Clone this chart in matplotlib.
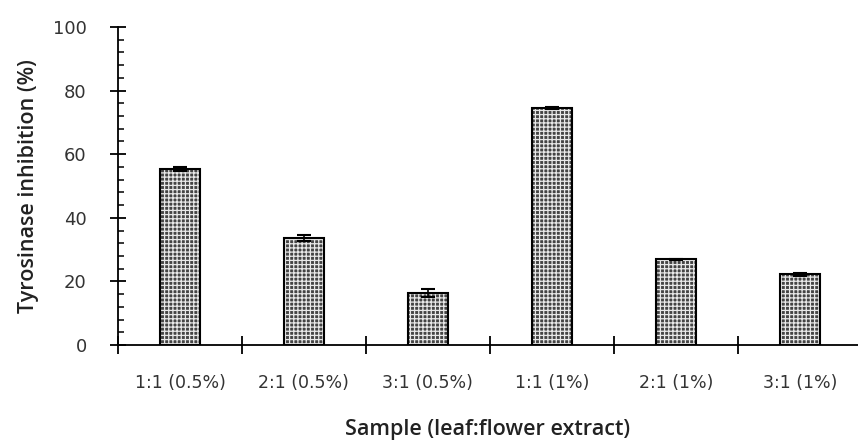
import numpy as np
import matplotlib.pyplot as plt
from matplotlib.ticker import MultipleLocator, FixedLocator

# data
samples = ['1:1 (0.5%)', '2:1 (0.5%)', '3:1 (0.5%)', '1:1 (1%)', '2:1 (1%)', '3:1 (1%)']
inhibition = [55.3, 33.6, 16.3, 74.5, 27.0, 22.2]
errors = [0.7, 1.0, 1.3, 0.3, 0.2, 0.4]


def plot_chart():
    plt.switch_backend('Agg')
    plt.rcParams['font.family'] = ['DejaVu Sans']
    plt.rcParams['hatch.linewidth'] = 0.9

    fig = plt.figure(figsize=(8.58, 4.45), dpi=100)
    ax = fig.add_axes([0.1375, 0.2247, 0.8625, 0.7146])

    x = np.arange(len(samples))
    width = 0.32

    # pattern fill (dark grey with white hatch), then black outline
    ax.bar(x, inhibition, width=width, color='#444444', edgecolor='#e8e8e8',
           hatch='++++', linewidth=0, zorder=2)
    ax.bar(x, inhibition, width=width, fill=False, edgecolor='black',
           linewidth=1.5, zorder=3)
    ax.errorbar(x, inhibition, yerr=errors, fmt='none', ecolor='black',
                elinewidth=1.2, capsize=5, capthick=1.5, zorder=4)

    ax.set_xlim(-0.5, 5.47)
    ax.set_ylim(0, 100)

    for side in ['top', 'right']:
        ax.spines[side].set_visible(False)
    ax.spines['left'].set_linewidth(1.3)
    ax.spines['bottom'].set_linewidth(1.3)

    # y ticks
    ax.yaxis.set_major_locator(MultipleLocator(20))
    ax.yaxis.set_minor_locator(MultipleLocator(4))
    ax.tick_params(axis='y', which='major', direction='inout', length=11,
                   width=1.3, labelsize=13, labelcolor='#333333', pad=17)
    ax.tick_params(axis='y', which='minor', direction='in', length=4.5, width=1.1)

    # x ticks: marks between categories, labels at category centres
    ax.xaxis.set_major_locator(FixedLocator(np.arange(-0.5, 5.0, 1.0)))
    ax.xaxis.set_minor_locator(FixedLocator(x))
    ax.set_xticklabels([''] * 6)
    ax.set_xticklabels(samples, minor=True)
    ax.tick_params(axis='x', which='major', direction='inout', length=13, width=1.3)
    ax.tick_params(axis='x', which='minor', length=0, labelsize=12.5,
                   labelcolor='#333333', pad=21)

    ax.set_ylabel('Tyrosinase inhibition (%)', fontsize=15.5, fontweight='semibold',
                  family=['Open Sans', 'DejaVu Sans'], color='#222222', labelpad=10)
    ax.set_xlabel('Sample (leaf:flower extract)', fontsize=15.5, fontweight='semibold',
                  family=['Open Sans', 'DejaVu Sans'], color='#222222', labelpad=19)

    fig.savefig('out.png', dpi=100)
    plt.close(fig)


if __name__ == "__main__":
    plot_chart()
